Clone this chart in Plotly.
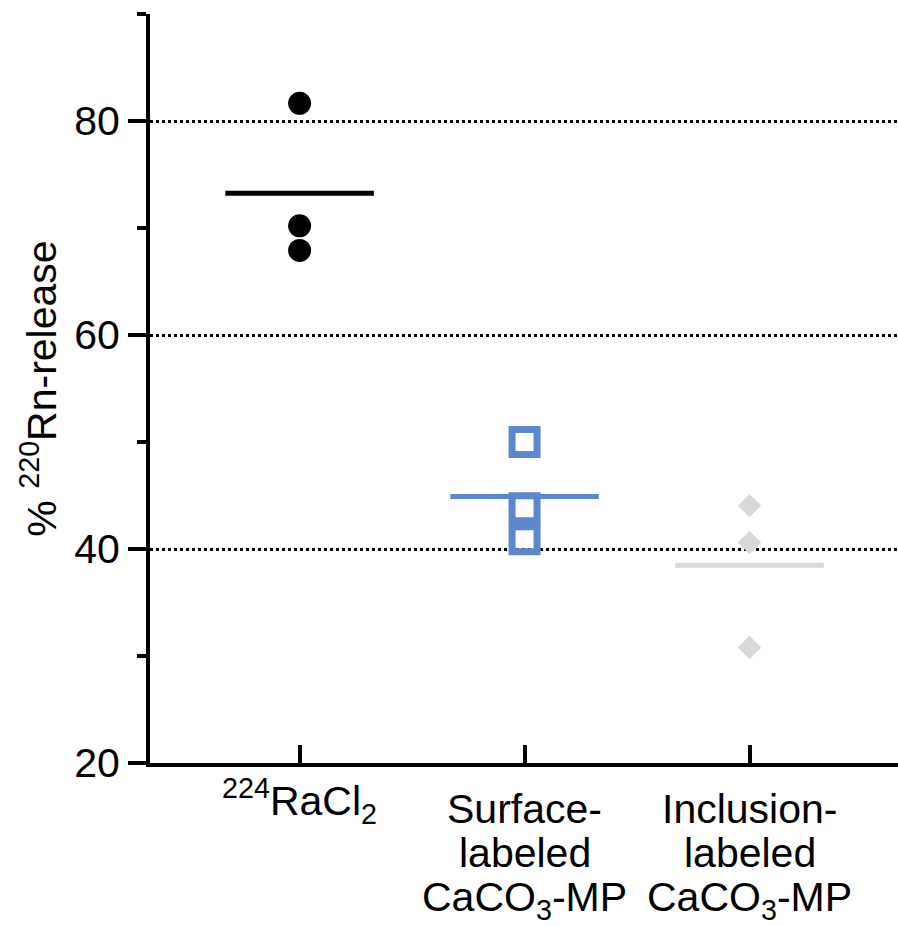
import plotly.graph_objects as go

category_lines = [
    ["<sup>224</sup>RaCl<sub>2</sub>"],
    ["Surface-", "labeled", "CaCO<sub>3</sub>-MP"],
    ["Inclusion-", "labeled", "CaCO<sub>3</sub>-MP"],
]
ra_cl2 = [81.65, 70.2, 67.9]
surface = [50.0, 43.8, 40.9]
inclusion = [44.05, 40.6, 30.8]
y_ticks = [20, 40, 60, 80]

groups = [ra_cl2, surface, inclusion]
colors = ["#000000", "#5B87CE", "#D9D9D9"]
symbols = ["circle", "square-open", "diamond"]
sizes = [23, 25, 18]
line_w = [0, 7, 0]
half = 0.33

FS = 41
W, H = 898, 926
MT, MB = 14, 163
plot_h = H - MT - MB
bottom_px = H - MB

fig = go.Figure()
for i, vals in enumerate(groups):
    fig.add_trace(go.Scatter(
        x=[i] * len(vals), y=vals, mode="markers",
        marker=dict(symbol=symbols[i], size=sizes[i], color=colors[i],
                    line=dict(width=line_w[i], color=colors[i])),
        showlegend=False, hoverinfo="y"))
    m = sum(vals) / len(vals)
    fig.add_trace(go.Scatter(
        x=[i - half, i + half], y=[m, m], mode="lines",
        line=dict(color=colors[i], width=5),
        showlegend=False, hoverinfo="y"))

# category labels: one annotation per text line (tight line spacing like the original)
baselines = [823, 867, 911]
ascent = 0.905 * FS
sup_extra = 0.6 * FS + 0.905 * 0.7 * FS - ascent
annotations = []
for i, lines in enumerate(category_lines):
    for j, txt in enumerate(lines):
        top_px = baselines[j] - ascent - 2
        if "<sup>" in txt:
            top_px -= sup_extra
        annotations.append(dict(
            x=i, xref="x", y=(bottom_px - top_px) / plot_h, yref="paper",
            text=txt, showarrow=False, xanchor="center", yanchor="top",
            font=dict(size=FS, color="black")))

font = "Liberation Sans, Arial, Helvetica, sans-serif"
fig.update_layout(
    width=W, height=H,
    margin=dict(l=150, r=0, t=MT, b=MB),
    plot_bgcolor="white", paper_bgcolor="white",
    font=dict(family=font, size=FS, color="black"),
    annotations=annotations,
    xaxis=dict(
        range=[-0.665, 2.66], tickmode="array", tickvals=[0, 1, 2],
        showticklabels=False, showgrid=False, zeroline=False,
        showline=True, linecolor="black", linewidth=4,
        ticks="inside", ticklen=18, tickwidth=4, tickcolor="black",
    ),
    yaxis=dict(
        range=[20, 90], tickmode="array", tickvals=y_ticks,
        showgrid=True, gridcolor="black", gridwidth=2.5, griddash="2.5px,3.5px",
        zeroline=False, showline=True, linecolor="black", linewidth=4,
        ticks="outside", ticklen=18, tickwidth=4, tickcolor="black",
        minor=dict(dtick=10, tick0=20, ticks="outside", ticklen=9,
                   tickwidth=4, tickcolor="black", showgrid=False),
        tickfont=dict(size=FS), ticklabelstandoff=0,
        title=dict(text="% <sup>220</sup>Rn-release", font=dict(size=FS),
                   standoff=6),
    ),
)

fig.write_html("out.html")
